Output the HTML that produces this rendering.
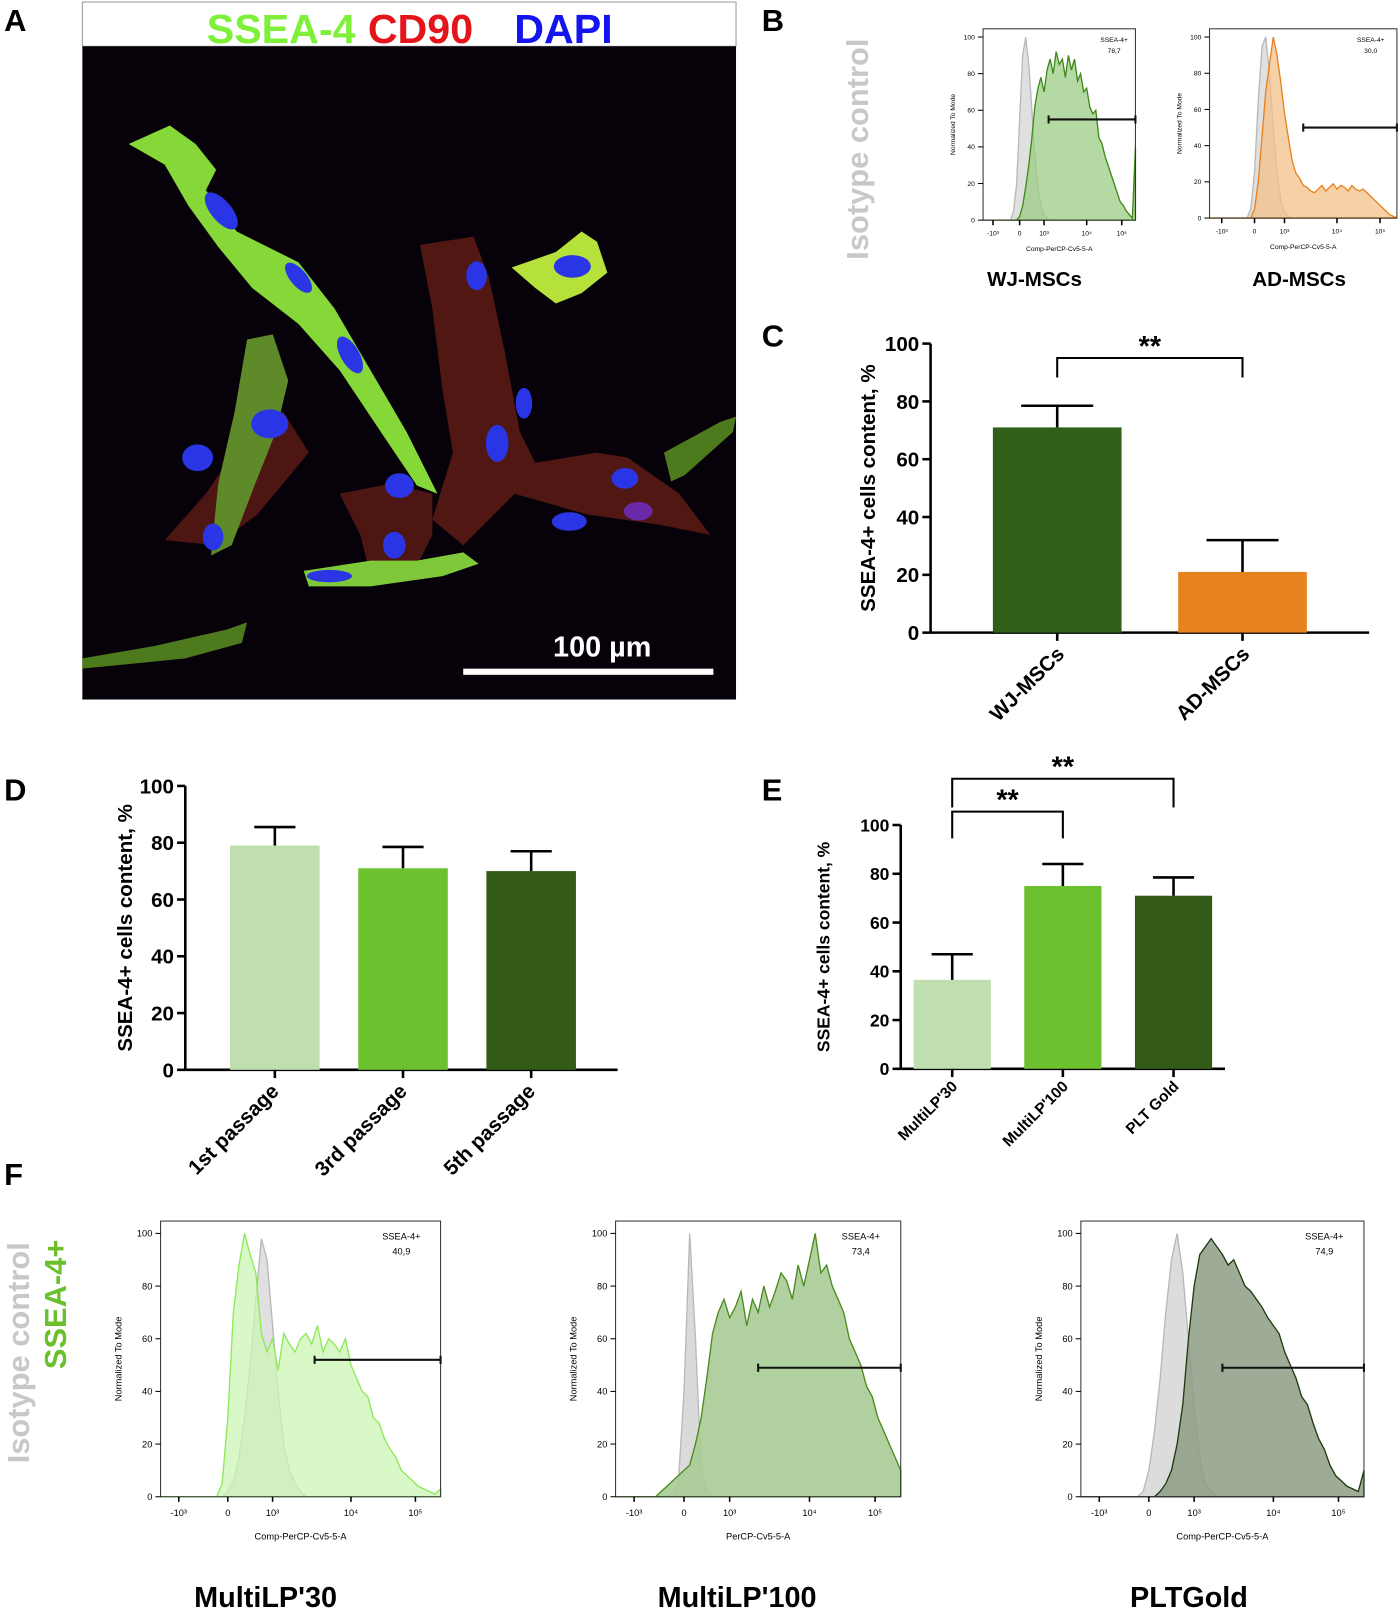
<!DOCTYPE html>
<html><head><meta charset="utf-8">
<style>
html,body{margin:0;padding:0;background:#fff;}
svg{display:block;font-family:"Liberation Sans",Arial,sans-serif;}
</style></head>
<body>
<svg id="fig" width="1400" height="1613" viewBox="0 0 1360 1568" preserveAspectRatio="none" xmlns="http://www.w3.org/2000/svg">
<rect width="1360" height="1568" fill="#fff"/>
<!-- Panel A -->
<g>
<text x="4" y="30" font-size="30" font-weight="bold">A</text>
<rect x="80" y="2" width="635" height="43" fill="#fff" stroke="#999"/>
<text x="398" y="42" font-size="40" font-weight="bold" text-anchor="middle"><tspan fill="#7ef03a">SSEA-4</tspan><tspan fill="#e3151a" dx="12">CD90</tspan><tspan fill="#1414ee" dx="40">DAPI</tspan></text>
<rect x="80" y="45" width="635" height="635" fill="#07010a"/>
<g>
<path d="M408 238 L460 230 L475 270 L490 340 L505 420 L520 450 L580 440 L610 445 L660 480 L690 520 L640 510 L570 500 L500 480 L470 510 L450 530 L420 505 L440 440 L430 380 L420 300 Z" fill="#5a1a14" opacity="0.9"/>
<path d="M240 420 L275 400 L300 440 L250 500 L210 530 L160 525 L200 480 Z" fill="#5a1a14" opacity="0.85"/>
<path d="M330 480 L380 470 L420 480 L420 520 L400 560 L360 560 L350 520 Z" fill="#5a1a14" opacity="0.85"/>
<path d="M125 140 L165 122 L190 140 L210 165 L200 185 L230 225 L290 255 L325 300 L360 360 L395 420 L425 480 L405 472 L370 420 L330 360 L290 315 L245 280 L212 240 L183 200 L160 160 Z" fill="#86d838"/>
<path d="M240 330 L265 325 L280 370 L268 420 L248 470 L225 530 L205 540 L212 470 L228 400 Z" fill="#5e8a2a"/>
<path d="M497 260 L540 245 L565 225 L580 235 L590 265 L565 285 L540 295 L520 280 Z" fill="#b6e03a"/>
<path d="M295 555 L360 545 L405 545 L450 537 L465 548 L430 560 L360 570 L300 570 Z" fill="#7ec83a"/>
<path d="M80 640 L150 628 L220 612 L240 605 L235 625 L180 640 L80 650 Z" fill="#4e7a1e"/>
<path d="M645 440 L700 410 L715 405 L712 420 L665 462 L652 468 Z" fill="#4e7a1e"/>
</g>
<g fill="#2a36e6">
<ellipse cx="215" cy="205" rx="10" ry="22" transform="rotate(-40 215 205)"/>
<ellipse cx="290" cy="270" rx="8" ry="18" transform="rotate(-40 290 270)"/>
<ellipse cx="340" cy="345" rx="9" ry="20" transform="rotate(-30 340 345)"/>
<ellipse cx="262" cy="412" rx="18" ry="14"/>
<ellipse cx="192" cy="445" rx="15" ry="13"/>
<ellipse cx="207" cy="522" rx="10" ry="13"/>
<ellipse cx="388" cy="472" rx="14" ry="12"/>
<ellipse cx="383" cy="530" rx="11" ry="13"/>
<ellipse cx="320" cy="560" rx="22" ry="6"/>
<ellipse cx="463" cy="268" rx="10" ry="14"/>
<ellipse cx="483" cy="431" rx="11" ry="18"/>
<ellipse cx="509" cy="392" rx="8" ry="15"/>
<ellipse cx="553" cy="507" rx="17" ry="9"/>
<ellipse cx="556" cy="259" rx="18" ry="11"/>
<ellipse cx="607" cy="465" rx="13" ry="10"/>
<ellipse cx="620" cy="497" rx="14" ry="9" fill="#6a2aa8"/>
</g>
<rect x="450" y="650" width="243" height="6" fill="#fff"/>
<text x="585" y="638" font-size="28" font-weight="bold" fill="#fff" text-anchor="middle">100 µm</text>
</g>

<!-- Panel B -->
<text x="740" y="30" font-size="30" font-weight="bold">B</text>
<text transform="translate(843,145) rotate(-90)" font-size="30" font-weight="bold" fill="#c8c8c8" text-anchor="middle">Isotype control</text>
<text x="1005" y="278" font-size="20" font-weight="bold" text-anchor="middle">WJ-MSCs</text>
<text x="1262" y="278" font-size="20" font-weight="bold" text-anchor="middle">AD-MSCs</text>

<text x="740" y="337" font-size="30" font-weight="bold">C</text>
<text x="4" y="778" font-size="30" font-weight="bold">D</text>
<text x="740" y="778" font-size="30" font-weight="bold">E</text>
<text x="4" y="1152" font-size="30" font-weight="bold">F</text>
<text transform="translate(28,1315) rotate(-90)" font-size="30" font-weight="bold" fill="#c8c8c8" text-anchor="middle">Isotype control</text>
<text transform="translate(64,1268) rotate(-90)" font-size="30" font-weight="bold" fill="#6cc02c" text-anchor="middle">SSEA-4+</text>
<text x="258" y="1562" font-size="28" font-weight="bold" text-anchor="middle">MultiLP'30</text>
<text x="716" y="1562" font-size="28" font-weight="bold" text-anchor="middle">MultiLP'100</text>
<text x="1155" y="1562" font-size="28" font-weight="bold" text-anchor="middle">PLTGold</text>
<g id="charts"></g>
</svg>
<script>
// ---------- bar chart data ----------
const cCategories = ["WJ-MSCs", "AD-MSCs"];
const cValues = [71, 21];
const cErrors = [78.5, 32];
const dCategories = ["1st passage", "3rd passage", "5th passage"];
const dValues = [79, 71, 70];
const dErrors = [85.5, 78.5, 77];
const eCategories = ["MultiLP'30", "MultiLP'100", "PLT Gold"];
const eValues = [36.5, 75, 71];
const eErrors = [47, 84, 78.5];
const yTicks = [0, 20, 40, 60, 80, 100];

// ---------- histogram data (51 bins across plot width, % of mode) ----------
const b1Iso = [0,0,0,0,0,0,0,0,0,0,5,20,55,90,100,85,60,35,18,8,3,1,0,0,0,0,0,0,0,0,0,0,0,0,0,0,0,0,0,0,0,0,0,0,0,0,0,0,0,0,0];
const b1Pos = [0,0,0,0,0,0,0,0,0,0,0,0,2,8,18,30,45,62,72,78,70,82,88,80,92,85,88,78,90,82,88,76,80,70,72,62,58,60,45,42,35,30,25,20,15,10,8,5,3,1,40];
const b2Iso = [0,0,0,0,0,0,0,0,0,0,0,5,25,65,95,100,80,50,25,10,3,1,0,0,0,0,0,0,0,0,0,0,0,0,0,0,0,0,0,0,0,0,0,0,0,0,0,0,0,0,0];
const b2Pos = [0,0,0,0,0,0,0,0,0,0,0,0,5,20,45,70,85,100,90,75,58,45,32,25,22,18,17,15,14,16,18,15,17,19,16,18,17,15,18,16,15,16,14,12,10,8,6,4,2,1,0];
const f1Iso = [0,0,0,0,0,0,0,0,0,0,0,0,2,6,15,30,50,75,98,90,65,40,20,10,5,2,0,0,0,0,0,0,0,0,0,0,0,0,0,0,0,0,0,0,0,0,0,0,0,0,0];
const f1Pos = [0,0,0,0,0,0,0,0,0,0,0,5,30,70,88,100,92,85,62,55,60,48,62,58,55,60,62,58,65,55,60,58,55,60,50,45,40,38,30,28,22,18,15,10,8,6,4,3,2,1,3];
const f2Iso = [0,0,0,0,0,0,0,0,0,0,0,5,40,100,60,10,2,0,0,0,0,0,0,0,0,0,0,0,0,0,0,0,0,0,0,0,0,0,0,0,0,0,0,0,0,0,0,0,0,0,0];
const f2Pos = [0,0,0,0,0,0,0,0,2,4,6,8,10,12,20,30,45,62,70,75,68,72,78,65,75,70,80,72,78,85,82,75,88,80,90,100,85,88,80,75,70,60,55,50,42,38,30,25,20,15,10];
const f3Iso = [0,0,0,0,0,0,0,0,0,0,0,2,10,25,45,70,90,100,85,60,35,15,5,2,0,0,0,0,0,0,0,0,0,0,0,0,0,0,0,0,0,0,0,0,0,0,0,0,0,0,0];
const f3Pos = [0,0,0,0,0,0,0,0,0,0,0,0,0,0,2,5,10,20,35,60,80,92,95,98,95,92,88,90,85,80,78,75,72,68,65,62,55,50,45,38,35,28,22,18,12,8,6,4,3,2,10];
const xTickLabels = ["-10³", "0", "10³", "10⁴", "10⁵"];
const xTickFrac = [0.065, 0.24, 0.40, 0.68, 0.91];

const NS = "http://www.w3.org/2000/svg";
const root = document.getElementById("charts");
function mk(tag, attrs, parent) {
  const el = document.createElementNS(NS, tag);
  for (const k in attrs) el.setAttribute(k, attrs[k]);
  (parent || root).appendChild(el);
  return el;
}

// ---------- bar chart ----------
function barChart(o) {
  const g = mk("g", {});
  
  
  const y = v => o.y0 - (o.y0 - o.y100) * v / 100;
  const n = o.cats.length;
  const cx = i => o.firstC + i * o.step;
  const ya = mk("line", {x1:o.ax, x2:o.ax, y1:o.y100, y2:o.y0, stroke:"#000", "stroke-width":2.5}, g);
  
  
  const xa = mk("line", {x1:o.ax, x2:o.xEnd, y1:o.y0, y2:o.y0, stroke:"#000", "stroke-width":2.5}, g);
  
  
  yTicks.forEach(t => {
    const tl = mk("line", {x1:o.ax - 8, x2:o.ax, y1:y(t), y2:y(t), stroke:"#000", "stroke-width":2.5}, g);
    
    
    const tx = mk("text", {x:o.ax - 11, y:y(t) + o.fs * 0.36, "font-size":o.fs, "font-weight":"bold", "text-anchor":"end"}, g);
    tx.textContent = t;
    
    
  });
  const lab = mk("text", {transform:`translate(${o.labX},${(o.y0 + o.y100) / 2 + o.labDy}) rotate(-90)`, "font-size":o.fs, "font-weight":"bold", "text-anchor":"middle"}, g);
  lab.textContent = "SSEA-4+ cells content, %";
  
  
  for (let i = 0; i < n; i++) {
    const c = cx(i);
    const r = mk("rect", {x:c - o.bw / 2, y:y(o.vals[i]), width:o.bw, height:o.y0 - y(o.vals[i]), fill:o.colors[i]}, g);
    
    
    const e = mk("path", {d:`M${c} ${y(o.vals[i])} V${y(o.errs[i])} M${c - o.cap} ${y(o.errs[i])} H${c + o.cap}`, stroke:"#000", "stroke-width":2.5, fill:"none"}, g);
    
    
    const tk = mk("line", {x1:c, x2:c, y1:o.y0, y2:o.y0 + 8, stroke:"#000", "stroke-width":2.5}, g);
    
    
    const lx = c + o.lblDx, ly = o.y0 + o.lblDy;
    const t = mk("text", {x:lx, y:ly, transform:`rotate(-45 ${lx} ${ly})`, "font-size":o.xfs, "font-weight":"bold", "text-anchor":"end"}, g);
    t.textContent = o.cats[i];
    
    
  }
  (o.brackets || []).forEach(b => {
    const x1 = cx(b[0]), x2 = cx(b[1]);
    const p = mk("path", {d:`M${x1} ${b[3]} V${b[2]} H${x2} V${b[3]}`, stroke:"#000", "stroke-width":2, fill:"none"}, g);
    
    
    const s = mk("text", {x:(x1 + x2) / 2, y:b[2] - 2, "font-size":28, "font-weight":"bold", "text-anchor":"middle"}, g);
    s.textContent = "**";
    
    
  });
}

barChart({name:"chart-c", cats:cCategories, vals:cValues, errs:cErrors, colors:["#2f5f18", "#e8821e"],
  ax:904, xEnd:1330, y0:615, y100:334, firstC:1027, step:180, bw:125, cap:35, fs:20, xfs:20,
  labX:850, labDy:0, lblDx:8, lblDy:22, brackets:[[0, 1, 348, 367]]});
barChart({name:"chart-d", cats:dCategories, vals:dValues, errs:dErrors, colors:["#bfe0ae", "#6cc12e", "#335a17"],
  ax:180, xEnd:600, y0:1040, y100:764, firstC:267, step:124.5, bw:87, cap:20, fs:20, xfs:20,
  labX:128, labDy:0, lblDx:5, lblDy:22});
barChart({name:"chart-e", cats:eCategories, vals:eValues, errs:eErrors, colors:["#bfe0ae", "#6cc12e", "#335a17"],
  ax:875, xEnd:1190, y0:1039, y100:802, firstC:925, step:107.5, bw:75, cap:20, fs:17, xfs:15,
  labX:806, labDy:0, lblDx:6, lblDy:18, brackets:[[0, 1, 789, 815], [0, 2, 757, 785]]});

// ---------- histograms ----------
function hist(o) {
  const g = mk("g", {});
  
  
  const W = o.x1 - o.x0;
  const X = f => o.x0 + f * W;
  const Y = v => o.yb - (o.yb - o.y100) * v / 100;
  function area(arr, fill, stroke, nm) {
    const n = arr.length - 1;
    let d = `M${X(0)} ${Y(0)}`;
    arr.forEach((v, i) => { d += ` L${X(i / n).toFixed(1)} ${Y(v).toFixed(1)}`; });
    d += ` L${X(1)} ${Y(0)} Z`;
    const p = mk("path", {d, fill, stroke, "stroke-width":1.3, "fill-opacity":o.op || 0.75}, g);
    
    
  }
  area(o.iso, "#d6d6d6", "#b8b8b8", "isotype-histogram");
  area(o.pos, o.fill, o.stroke, "ssea4-histogram");
  const fr = mk("rect", {x:o.x0, y:o.yt, width:W, height:o.yb - o.yt, fill:"none", stroke:"#333", "stroke-width":1}, g);
  
  
  const fs = o.fs;
  for (let t = 0; t <= 100; t += 20) {
    const tl = mk("line", {x1:o.x0 - 5, x2:o.x0, y1:Y(t), y2:Y(t), stroke:"#000", "stroke-width":1}, g);
    
    
    const tx = mk("text", {x:o.x0 - 8, y:Y(t) + fs * 0.35, "font-size":fs, "text-anchor":"end"}, g);
    tx.textContent = t;
    
    
  }
  xTickLabels.forEach((l, i) => {
    const xx = X(xTickFrac[i]);
    const tl = mk("line", {x1:xx, x2:xx, y1:o.yb, y2:o.yb + 5, stroke:"#000", "stroke-width":1.5}, g);
    
    
    const tx = mk("text", {x:xx, y:o.yb + 6 + fs * 1.4, "font-size":fs, "text-anchor":"middle"}, g);
    tx.textContent = l;
    
    
  });
  const yl = mk("text", {transform:`translate(${o.x0 - fs * 4.2},${(o.yt + o.yb) / 2}) rotate(-90)`, "font-size":fs, "text-anchor":"middle"}, g);
  yl.textContent = "Normalized To Mode";
  
  
  const xl = mk("text", {x:(o.x0 + o.x1) / 2, y:o.yb + fs * 4.6, "font-size":fs, "text-anchor":"middle"}, g);
  xl.textContent = o.xlabel;
  
  
  const gy = Y(o.gate[0]);
  const gb = mk("path", {d:`M${X(o.gate[1])} ${gy} H${X(1)} M${X(o.gate[1])} ${gy - 4} V${gy + 4} M${X(1)} ${gy - 4} V${gy + 4}`, stroke:"#111", "stroke-width":2, fill:"none"}, g);
  
  
  const gt = mk("text", {x:X(0.86), y:o.yt + fs * 2, "font-size":fs, "text-anchor":"middle"}, g);
  gt.textContent = "SSEA-4+";
  
  
  const gv = mk("text", {x:X(0.86), y:o.yt + fs * 3.6, "font-size":fs, "text-anchor":"middle"}, g);
  gv.textContent = o.pct;
  
  
}

hist({name:"histogram-wj", x0:955, x1:1103, yt:28, y100:36, yb:214, iso:b1Iso, pos:b1Pos, fill:"#9ccc84", stroke:"#3e8a1a", fs:6.5, xlabel:"Comp-PerCP-Cv5-5-A", gate:[55, 0.43], pct:"78,7"});
hist({name:"histogram-ad", x0:1175, x1:1357, yt:28, y100:36, yb:212, iso:b2Iso, pos:b2Pos, fill:"#f3c08a", stroke:"#e8821e", fs:6.5, xlabel:"Comp-PerCP-Cv5-5-A", gate:[50, 0.5], pct:"30,0"});
hist({name:"histogram-multilp30", x0:156, x1:428, yt:1187, y100:1199, yb:1455, iso:f1Iso, pos:f1Pos, fill:"#ccf5b5", stroke:"#8ee85a", fs:9, xlabel:"Comp-PerCP-Cv5-5-A", gate:[52, 0.55], pct:"40,9"});
hist({name:"histogram-multilp100", x0:598, x1:875, yt:1187, y100:1199, yb:1455, iso:f2Iso, pos:f2Pos, fill:"#a7cc95", stroke:"#4a8a1e", fs:9, xlabel:"PerCP-Cv5-5-A", gate:[49, 0.5], pct:"73,4", op:0.9});
hist({name:"histogram-pltgold", x0:1050, x1:1325, yt:1187, y100:1199, yb:1455, iso:f3Iso, pos:f3Pos, fill:"#8d9e85", stroke:"#1f3a10", fs:9, xlabel:"Comp-PerCP-Cv5-5-A", gate:[49, 0.5], pct:"74,9", op:0.85});
</script>
</body></html>
